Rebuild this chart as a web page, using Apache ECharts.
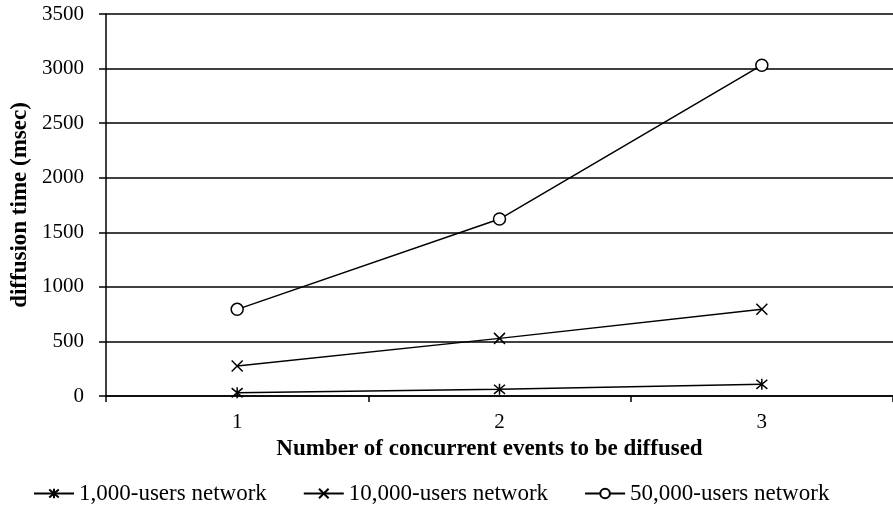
<!DOCTYPE html>
<html>
<head>
<meta charset="utf-8">
<script src="https://cdn.jsdelivr.net/npm/echarts@6/dist/echarts.min.js"></script>
<style>html,body{margin:0;padding:0;background:#fff}#c{width:893px;height:515px}</style>
</head>
<body>
<div id="c"></div>
<script>
const categories = ['1', '2', '3'];
const seriesNames = ['1,000-users network', '10,000-users network', '50,000-users network'];
const users1k = [30, 61, 107];
const users10k = [275, 528, 794];
const users50k = [794, 1621, 3031];
const yTicks = { min: 0, max: 3500, interval: 500 };

const FONT = '"Liberation Serif", "Times New Roman", serif';
const starPath = 'path://M0,0L10,10M10,0L0,10M5,-1L5,11';
const xPath = 'path://M0,0L10,10M10,0L0,10';

const chart = echarts.init(document.getElementById('c'), null, { renderer: 'canvas' });
function mk(name, data, symbol, size, fill) {
  return {
    name, type: 'line', data, symbol, symbolSize: size,
    lineStyle: { color: '#000', width: 1.5 },
    itemStyle: { color: fill, borderColor: '#000', borderWidth: 1.5 },
    emphasis: { disabled: true },
    animation: false
  };
}
chart.setOption({
  animation: false,
  textStyle: { fontFamily: FONT, color: '#000' },
  grid: { left: 106, right: -6, top: 14, bottom: 119 },
  legend: {
    bottom: 5, left: 28,
    itemWidth: 40, itemHeight: 12, itemGap: 36,
    textStyle: { fontFamily: FONT, fontSize: 23, color: '#000' },
    data: seriesNames
  },
  xAxis: {
    type: 'category', data: categories, boundaryGap: true,
    name: 'Number of concurrent events to be diffused',
    nameLocation: 'middle', nameGap: 42,
    nameTextStyle: { fontFamily: FONT, fontSize: 23, fontWeight: 'bold', color: '#000', padding: [0, 20, 0, 0] },
    axisLine: { lineStyle: { color: '#000', width: 1.5 } },
    axisTick: { show: true, length: 6, lineStyle: { color: '#000', width: 1.5 } },
    axisLabel: { fontFamily: FONT, fontSize: 21, color: '#000', margin: 16 },
    splitLine: { show: false }
  },
  yAxis: {
    type: 'value', min: yTicks.min, max: yTicks.max, interval: yTicks.interval,
    name: 'diffusion time (msec)', nameLocation: 'middle', nameGap: 74, nameRotate: 90,
    nameTextStyle: { fontFamily: FONT, fontSize: 23, fontWeight: 'bold', color: '#000' },
    axisLine: { show: true, lineStyle: { color: '#000', width: 1.5 } },
    axisTick: { show: true, length: 7, lineStyle: { color: '#000', width: 1.5 } },
    axisLabel: { fontFamily: FONT, fontSize: 21, color: '#000', margin: 22, formatter: v => String(v) },
    splitLine: { show: true, lineStyle: { color: '#000', width: 1.5 } }
  },
  series: [
    mk(seriesNames[0], users1k, starPath, 11, 'transparent'),
    mk(seriesNames[1], users10k, xPath, 11, 'transparent'),
    mk(seriesNames[2], users50k, 'circle', 12, '#fff')
  ]
});
</script>
</body>
</html>
